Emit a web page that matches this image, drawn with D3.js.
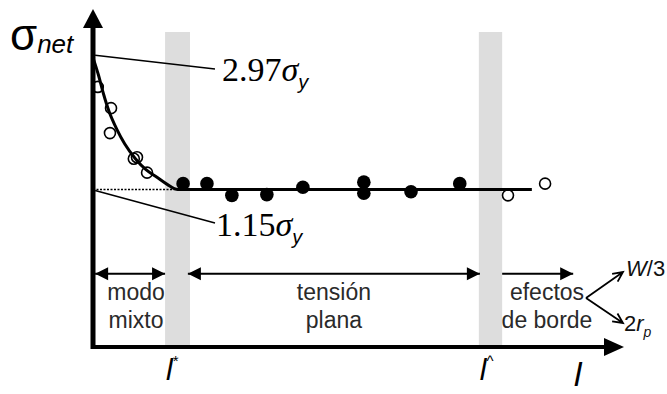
<!DOCTYPE html>
<html>
<head>
<meta charset="utf-8">
<script src="https://cdn.jsdelivr.net/npm/d3@7"></script>
<style>
  html, body { margin: 0; padding: 0; background: #fff; }
  svg { display: block; }
</style>
</head>
<body>
<div id="chart"></div>
<script>
// ---- data (schematic, sigma_net / sigma_y vs ligament length l) ----
var openX   = [0.9, 3.4, 3.2, 7.7, 8.3, 10.2, 78.3, 85.3];
var openY   = [2.55, 2.26, 1.92, 1.57, 1.59, 1.38, 1.07, 1.23];
var filledX = [17.0, 21.5, 26.2, 32.8, 39.6, 51.1, 51.1, 60.0, 69.2];
var filledY = [1.23, 1.23, 1.07, 1.08, 1.18, 1.25, 1.10, 1.12, 1.23];
var curveX  = [0, 1, 2, 3, 4.5, 6, 8, 10, 12, 14, 16, 82.8];
var curveY  = [2.95, 2.72, 2.45, 2.22, 1.97, 1.77, 1.57, 1.42, 1.32, 1.22, 1.15, 1.15];
var plateau = 1.15, peak = 2.97;
var bandX   = [[13.6, 18.3], [72.8, 77.2]];
var bandLabels = ["*", "^"];
var regionX = [[0.4, 13.6], [17.9, 73.0], [77.2, 90.6]];
var regionHeads = [["start", "end"], ["start", "end"], ["end"]];
var regionText = [["modo", "mixto"], ["tensión", "plana"], ["efectos", "de borde"]];

var width = 667, height = 394;
var x = d3.scaleLinear().domain([0, 100]).range([93, 623]);
var y = d3.scaleLinear().domain([-1.0, 3.6]).range([347, 10]);

var sans = "'Liberation Sans', Arial, sans-serif";
var serif = "'Liberation Serif', 'Times New Roman', serif";

var svg = d3.select("#chart").append("svg")
    .attr("width", width)
    .attr("height", height);

// grey bands
svg.selectAll("rect.band")
    .data(bandX)
    .enter().append("rect")
    .attr("class", "band")
    .attr("x", function(d) { return x(d[0]); })
    .attr("width", function(d) { return x(d[1]) - x(d[0]); })
    .attr("y", y(3.3))
    .attr("height", y(-1.0) - y(3.3))
    .style("fill", "#dddddd");

// dotted reference at plateau
svg.append("line")
    .attr("x1", x(0)).attr("x2", x(16))
    .attr("y1", y(plateau)).attr("y2", y(plateau))
    .style("stroke", "#000").style("stroke-width", 1.5)
    .style("stroke-dasharray", "2,1.5");

// leader lines
svg.append("line")
    .attr("x1", x(0.4)).attr("y1", y(peak) - 1)
    .attr("x2", 215).attr("y2", 69)
    .style("stroke", "#000").style("stroke-width", 1.5);
svg.append("line")
    .attr("x1", x(0.4)).attr("y1", y(plateau) + 1)
    .attr("x2", 215).attr("y2", 223)
    .style("stroke", "#000").style("stroke-width", 1.5);

// fitted curve
var line = d3.line()
    .x(function(d) { return x(d[0]); })
    .y(function(d) { return y(d[1]); })
    .curve(d3.curveMonotoneX);
svg.append("path")
    .datum(d3.zip(curveX, curveY))
    .attr("d", line)
    .style("fill", "none").style("stroke", "#000").style("stroke-width", 3);

// markers
svg.selectAll("circle.open")
    .data(d3.zip(openX, openY))
    .enter().append("circle")
    .attr("class", "open")
    .attr("cx", function(d) { return x(d[0]); })
    .attr("cy", function(d) { return y(d[1]); })
    .attr("r", 5.5)
    .style("fill", "none").style("stroke", "#000").style("stroke-width", 1.6);

svg.selectAll("circle.filled")
    .data(d3.zip(filledX, filledY))
    .enter().append("circle")
    .attr("class", "filled")
    .attr("cx", function(d) { return x(d[0]); })
    .attr("cy", function(d) { return y(d[1]); })
    .attr("r", 6.8)
    .style("fill", "#000");

// axes with arrow heads
svg.append("line")
    .attr("x1", x(0)).attr("x2", x(0))
    .attr("y1", y(-1.0) + 2).attr("y2", 26)
    .style("stroke", "#000").style("stroke-width", 5);
svg.append("line")
    .attr("x1", x(0) - 2).attr("x2", 606)
    .attr("y1", y(-1.0)).attr("y2", y(-1.0))
    .style("stroke", "#000").style("stroke-width", 4);
svg.append("path")
    .attr("d", "M" + (x(0) - 10) + ",28L" + x(0) + ",9L" + (x(0) + 10) + ",28Z")
    .style("fill", "#000");
svg.append("path")
    .attr("d", "M604," + (y(-1.0) - 9) + "L624," + y(-1.0) + "L604," + (y(-1.0) + 9) + "Z")
    .style("fill", "#000");

// region arrows
function head(px, py, dir, len, hw) {
  return "M" + px + "," + py + "L" + (px - dir * len) + "," + (py - hw) +
         "L" + (px - dir * len) + "," + (py + hw) + "Z";
}
var ry = y(0);
regionX.forEach(function(r, i) {
  var x0 = x(r[0]), x1 = x(r[1]);
  svg.append("line")
    .attr("x1", x0).attr("x2", x1).attr("y1", ry).attr("y2", ry)
    .style("stroke", "#000").style("stroke-width", 2);
  regionHeads[i].forEach(function(h) {
    svg.append("path")
      .attr("d", h === "end" ? head(x1, ry, 1, 13, 6.5) : head(x0, ry, -1, 13, 6.5))
      .style("fill", "#000");
  });
  var cx = (x0 + x1) / 2;
  if (i === 0) cx = 136;
  if (i === 2) cx = 547;
  regionText[i].forEach(function(t, j) {
    svg.append("text")
      .attr("x", cx).attr("y", 300 + j * 28)
      .attr("text-anchor", "middle")
      .style("font-family", sans)
      .style("font-size", "23px")
      .style("fill", "#2a2a2a")
      .text(t);
  });
});

// W/3 and 2rp arrows
function openArrow(x0, y0, x1, y1) {
  var a = Math.atan2(y1 - y0, x1 - x0), L = 11, s = 0.45;
  svg.append("path")
    .attr("d", "M" + x0 + "," + y0 + "L" + x1 + "," + y1 +
      "M" + (x1 - L * Math.cos(a - s)) + "," + (y1 - L * Math.sin(a - s)) +
      "L" + x1 + "," + y1 +
      "L" + (x1 - L * Math.cos(a + s)) + "," + (y1 - L * Math.sin(a + s)))
    .style("fill", "none").style("stroke", "#000").style("stroke-width", 1.8);
}
openArrow(586, 298, 623, 272);
openArrow(586, 298, 623, 323);

var w3 = svg.append("text").attr("x", 626).attr("y", 276)
    .style("font-family", sans).style("font-size", "22px").style("fill", "#111");
w3.append("tspan").style("font-style", "italic").text("W");
w3.append("tspan").text("/3");

var rp = svg.append("text").attr("x", 624).attr("y", 331)
    .style("font-family", sans).style("font-size", "22px").style("fill", "#111");
rp.append("tspan").text("2");
rp.append("tspan").style("font-style", "italic").text("r");
rp.append("tspan").style("font-style", "italic").style("font-size", "14px")
    .attr("dy", 6).text("p");

// band labels l*, l^
bandX.forEach(function(b, i) {
  var t = svg.append("text")
    .attr("x", x(b[0]) + 1).attr("y", 380)
    .style("font-family", sans).style("font-size", "30px").style("font-style", "italic");
  t.append("tspan").text("l");
  t.append("tspan").attr("dy", -14).style("font-size", "15px").style("font-style", "normal").text(bandLabels[i]);
});

// x axis title l
svg.append("text")
    .attr("x", 574).attr("y", 386)
    .style("font-family", sans).style("font-size", "34px").style("font-style", "italic")
    .text("l");

// y axis title sigma_net
var yt = svg.append("text").attr("x", 10).attr("y", 50)
    .style("font-family", sans).style("font-size", "44px");
yt.append("tspan").text("σ");
yt.append("tspan").style("font-style", "italic").style("font-size", "26px")
    .attr("dy", 3).text("net");

// value labels
function sigmaLabel(num, px, py) {
  var t = svg.append("text").attr("x", px).attr("y", py)
      .style("font-family", serif).style("font-size", "34px");
  t.append("tspan").text(num);
  t.append("tspan").style("font-style", "italic").text("σ");
  t.append("tspan").style("font-family", sans).style("font-style", "italic")
      .style("font-size", "20px").attr("dy", 8).text("y");
}
sigmaLabel(d3.format(".2f")(peak), 222, 81);
sigmaLabel(d3.format(".2f")(plateau), 216, 236);
</script>
</body>
</html>
